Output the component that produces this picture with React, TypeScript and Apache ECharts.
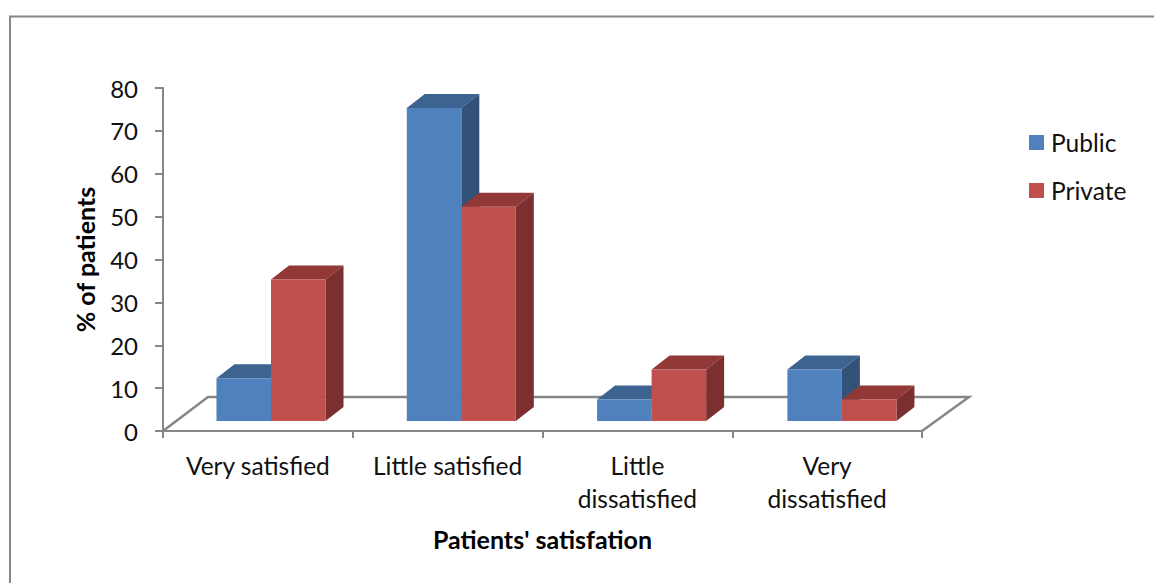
import React, { useEffect, useRef } from "react";
import * as echarts from "echarts";

const categories = ["Very satisfied", "Little satisfied", "Little\ndissatisfied", "Very\ndissatisfied"];
const publicValues = [10, 73, 5, 12];
const privateValues = [33, 50, 12, 5];

const FONT = "Lato, Carlito, 'Open Sans', sans-serif";
const AXIS = "#868686";
const DX = 18;
const DY = -14;

function box(offsetFactor: number, front: string, top: string, side: string) {
  return (params: any, api: any) => {
    const idx = api.value(0);
    const val = api.value(1);
    const [cx, baseY] = api.coord([idx, 0]);
    const [, topY] = api.coord([idx, val]);
    const w = api.size([1, 0])[0] * 0.2865;
    const x0 = cx + offsetFactor * w;
    const x1 = x0 + w;
    return {
      type: "group",
      children: [
        { type: "polygon", shape: { points: [[x0, topY], [x1, topY], [x1 + DX, topY + DY], [x0 + DX, topY + DY]] }, style: { fill: top } },
        { type: "polygon", shape: { points: [[x1, topY], [x1 + DX, topY + DY], [x1 + DX, baseY + DY], [x1, baseY]] }, style: { fill: side } },
        { type: "rect", shape: { x: x0, y: topY, width: w, height: baseY - topY }, style: { fill: front } },
      ],
    };
  };
}

export default function App() {
  const ref = useRef<HTMLDivElement>(null);
  useEffect(() => {
    const chart = echarts.init(ref.current!, undefined, { renderer: "svg" });
    const toData = (vals: number[]) => vals.map((v, i) => [i, v]);
    chart.setOption({
      animation: false,
      backgroundColor: "#fff",
      textStyle: { fontFamily: FONT },
      grid: [
        { left: 163, top: 88, width: 759, height: 343 },
        { left: 175.85, top: 78, width: 761.2, height: 343 },
      ],
      xAxis: [
        {
          type: "category",
          gridIndex: 0,
          data: categories,
          axisLine: { lineStyle: { color: AXIS, width: 2 } },
          axisTick: { show: true, length: 7, lineStyle: { color: AXIS, width: 2 } },
          axisLabel: { interval: 0, color: "#111", fontSize: 24.5, fontFamily: FONT, lineHeight: 33, margin: 18 },
          name: "Patients' satisfation",
          nameLocation: "middle",
          nameGap: 95,
          nameTextStyle: { color: "#000", fontSize: 25, fontWeight: "bold", fontFamily: FONT },
        },
        { type: "category", gridIndex: 1, data: categories, show: false },
      ],
      yAxis: [
        {
          type: "value",
          gridIndex: 0,
          min: 0,
          max: 80,
          interval: 10,
          splitLine: { show: false },
          axisLine: { show: true, lineStyle: { color: AXIS, width: 2 } },
          axisTick: { show: true, length: 8, lineStyle: { color: AXIS, width: 2 } },
          axisLabel: { color: "#111", fontSize: 24, fontFamily: FONT, margin: 25 },
          name: "% of patients",
          nameLocation: "middle",
          nameGap: 66,
          nameTextStyle: { color: "#000", fontSize: 25, fontWeight: "bold", fontFamily: FONT },
        },
        { type: "value", gridIndex: 1, min: 0, max: 80, interval: 10, show: false },
      ],
      legend: {
        orient: "vertical",
        left: 1024,
        top: 125,
        itemWidth: 15,
        itemHeight: 15,
        itemGap: 23,
        icon: "rect",
        data: ["Public", "Private"],
        textStyle: { color: "#111", fontSize: 24.5, fontFamily: FONT, padding: [0, 0, 0, 2] },
      },
      graphic: [
        { type: "rect", silent: true, shape: { x: 10, y: 16.5, width: 1300, height: 700 }, style: { fill: "none", stroke: AXIS, lineWidth: 2 } },
        { type: "polyline", silent: true, shape: { points: [[163, 431], [208, 397], [969, 397], [922, 431]] }, style: { fill: "none", stroke: AXIS, lineWidth: 2.5 } },
      ],
      series: [
        {
          name: "Public",
          type: "custom",
          xAxisIndex: 1,
          yAxisIndex: 1,
          itemStyle: { color: "#4F81BD" },
          encode: { x: 0, y: 1 },
          data: toData(publicValues),
          renderItem: box(-1, "#4F81BD", "#3D6391", "#32527A"),
        },
        {
          name: "Private",
          type: "custom",
          xAxisIndex: 1,
          yAxisIndex: 1,
          itemStyle: { color: "#C0504D" },
          encode: { x: 0, y: 1 },
          data: toData(privateValues),
          renderItem: box(0, "#C0504D", "#923937", "#7B2F2E"),
        },
      ],
    });
    return () => chart.dispose();
  }, []);
  return <div ref={ref} style={{ position: "fixed", left: 0, top: 0, width: 1154, height: 583 }} />;
}
